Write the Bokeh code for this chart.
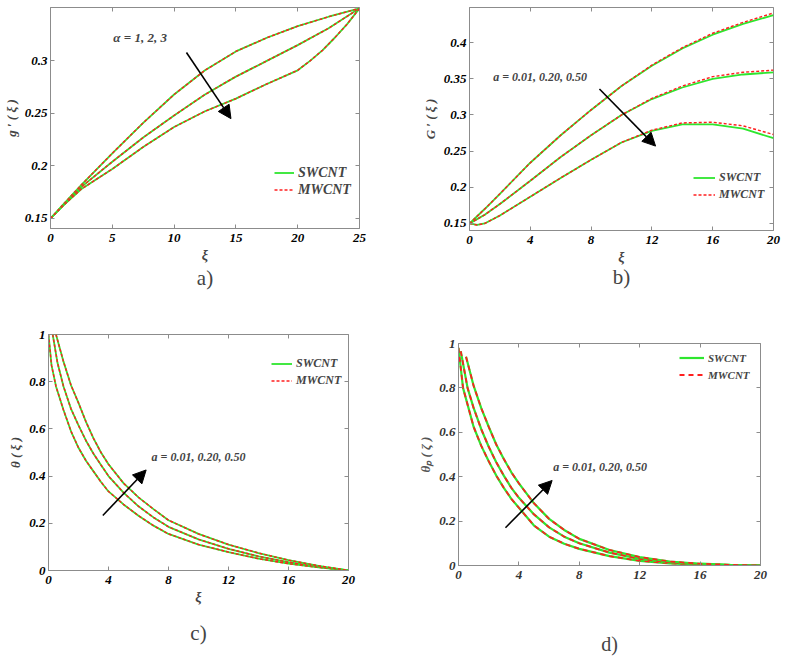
from bokeh.plotting import figure
from bokeh.models import (Range1d, FixedTicker, LinearAxis, Arrow, NormalHead, Label,
                          Legend, LegendItem)
from bokeh.layouts import column, row
from bokeh.embed import file_html
from bokeh.resources import INLINE

FONT = "Liberation Serif"
GREEN = "#2ee62e"
RED = "#ff1f1f"
AX = "#8c8c8c"

# ---------------- data ----------------
# a) g'(xi), alpha = 1, 2, 3
xa = [0, 1, 2.5, 5, 7.5, 10, 12.5, 15, 17.5, 20, 22.5, 25]
a1 = [0.150, 0.163, 0.182, 0.212, 0.241, 0.268, 0.291, 0.309, 0.322, 0.333, 0.342, 0.350]
a2 = [0.150, 0.162, 0.180, 0.204, 0.227, 0.248, 0.268, 0.285, 0.300, 0.315, 0.331, 0.350]
xa3 = [0, 1, 2.5, 5, 7.5, 10, 12.5, 15, 17.5, 20, 21, 22, 23, 24, 25]
a3 = [0.150, 0.162, 0.178, 0.197, 0.218, 0.237, 0.252, 0.264, 0.278, 0.291, 0.300, 0.310,
      0.322, 0.335, 0.350]

# b) G'(xi), a = 0.01, 0.20, 0.50
xb = [0, 0.5, 1, 2, 4, 6, 8, 10, 12, 14, 16, 18, 20]
b1_sw = [0.150, 0.160, 0.170, 0.191, 0.234, 0.272, 0.307, 0.340, 0.368, 0.392, 0.411, 0.426, 0.438]
b1_mw = [0.150, 0.160, 0.170, 0.191, 0.234, 0.272, 0.307, 0.340, 0.369, 0.393, 0.413, 0.428, 0.441]
b2_sw = [0.150, 0.156, 0.162, 0.177, 0.209, 0.242, 0.272, 0.300, 0.322, 0.338, 0.350, 0.356, 0.359]
b2_mw = [0.150, 0.156, 0.162, 0.177, 0.209, 0.242, 0.272, 0.300, 0.323, 0.340, 0.353, 0.359, 0.362]
b3_sw = [0.150, 0.148, 0.150, 0.161, 0.187, 0.213, 0.238, 0.262, 0.278, 0.287, 0.287, 0.281, 0.268]
b3_mw = [0.150, 0.148, 0.150, 0.161, 0.187, 0.213, 0.238, 0.262, 0.279, 0.289, 0.290, 0.285, 0.273]

# c) theta(xi)
xc1 = [0, 0.2, 0.5, 1, 1.5, 2, 2.5, 3, 3.5, 4, 5, 6, 7, 8, 10, 12, 14, 16, 18, 20]
c1 = [1.0, 0.87, 0.78, 0.68, 0.59, 0.52, 0.465, 0.42, 0.375, 0.335, 0.28, 0.232, 0.19, 0.155,
      0.11, 0.078, 0.05, 0.029, 0.013, 0.0]
xc2 = [0.28, 0.6, 1, 1.5, 2, 2.5, 3, 3.5, 4, 5, 6, 7, 8, 10, 12, 14, 16, 18, 20]
c2 = [1.0, 0.88, 0.78, 0.685, 0.615, 0.55, 0.495, 0.447, 0.40, 0.33, 0.272, 0.225, 0.185,
      0.132, 0.092, 0.06, 0.035, 0.015, 0.0]
xc3 = [0.5, 1, 1.5, 2, 2.5, 3, 3.5, 4, 5, 6, 7, 8, 10, 12, 14, 16, 18, 20]
c3 = [1.0, 0.885, 0.785, 0.71, 0.63, 0.56, 0.50, 0.45, 0.37, 0.31, 0.26, 0.213, 0.155, 0.11,
      0.074, 0.044, 0.02, 0.0]

# d) theta_p(xi)
xd1 = [0, 0.3, 1, 1.5, 2, 2.5, 3, 3.5, 4, 5, 6, 7, 8, 10, 12, 14, 16, 18, 20]
d1 = [0.98, 0.80, 0.625, 0.54, 0.47, 0.405, 0.35, 0.30, 0.26, 0.18, 0.13, 0.098, 0.075, 0.042,
      0.021, 0.01, 0.004, 0.001, 0.0]
xd2 = [0.15, 0.6, 1, 1.5, 2, 2.5, 3, 3.5, 4, 5, 6, 7, 8, 10, 12, 14, 16, 18, 20]
d2 = [0.965, 0.80, 0.71, 0.615, 0.535, 0.465, 0.405, 0.35, 0.305, 0.23, 0.172, 0.13, 0.10,
      0.058, 0.03, 0.014, 0.006, 0.002, 0.0]
xd3 = [0.5, 1, 1.5, 2, 2.5, 3, 3.5, 4, 5, 6, 7, 8, 10, 12, 14, 16, 18, 20]
d3 = [0.94, 0.81, 0.71, 0.625, 0.545, 0.48, 0.42, 0.37, 0.28, 0.21, 0.16, 0.12, 0.07, 0.038,
      0.018, 0.008, 0.003, 0.0]

ticks_a_x = [0, 5, 10, 15, 20, 25]
ticks_a_y = [0.15, 0.2, 0.25, 0.3]
ticks_b_x = [0, 4, 8, 12, 16, 20]
ticks_b_y = [0.15, 0.2, 0.25, 0.3, 0.35, 0.4]
ticks_cd_x = [0, 4, 8, 12, 16, 20]
ticks_cd_y = [0, 0.2, 0.4, 0.6, 0.8, 1]


def fmt(t):
    return "%g" % t


def base(w, h, l, r, t, b, xr, yr, xt, yt, xlab, ylab, caption, cap_standoff,
         tick_size="13px", tick_color="black", cap_size="21px"):
    p = figure(width=w, height=h, min_border_left=l, min_border_right=r,
               min_border_top=t, min_border_bottom=b,
               x_range=Range1d(*xr), y_range=Range1d(*yr),
               output_backend="svg", toolbar_location=None)
    p.grid.visible = False
    p.outline_line_color = AX
    for ax, tk in ((p.xaxis[0], xt), (p.yaxis[0], yt)):
        ax.ticker = FixedTicker(ticks=tk)
        ax.major_label_overrides = {v: fmt(v) for v in tk}
        ax.major_tick_in = 4
        ax.major_tick_out = 0
        ax.minor_tick_in = 0
        ax.minor_tick_out = 0
        ax.axis_line_color = AX
        ax.major_tick_line_color = AX
        ax.major_label_text_font = FONT
        ax.major_label_text_font_style = "bold italic"
        ax.major_label_text_font_size = tick_size
        ax.major_label_text_color = tick_color
        ax.axis_label_text_font = FONT
        ax.axis_label_text_font_style = "bold italic"
        ax.axis_label_text_font_size = "14px"
        ax.axis_label_standoff = 3
    p.xaxis[0].major_label_standoff = 5
    p.yaxis[0].major_label_standoff = 3
    p.xaxis[0].axis_label = xlab
    p.yaxis[0].axis_label = ylab
    p.yaxis[0].axis_label_text_font_size = "13px"
    for loc, tk in (("right", yt), ("above", xt)):
        ax = LinearAxis(ticker=FixedTicker(ticks=tk),
                        major_label_overrides={v: "" for v in tk},
                        major_label_text_font_size="0px", major_label_standoff=0,
                        major_tick_in=4, major_tick_out=0, minor_tick_in=0, minor_tick_out=0,
                        axis_line_color=None, major_tick_line_color=AX)
        p.add_layout(ax, loc)
    # caption placed as the label of an empty axis below the x axis
    cap = LinearAxis(ticker=FixedTicker(ticks=[]), major_label_text_font_size="0px",
                     major_label_standoff=0, major_tick_in=0, major_tick_out=0,
                     minor_tick_in=0, minor_tick_out=0, axis_line_color=None,
                     axis_label=caption, axis_label_text_font=FONT,
                     axis_label_text_font_style="normal", axis_label_text_font_size=cap_size,
                     axis_label_standoff=cap_standoff)
    p.add_layout(cap, "below")
    return p


def pair(p, x, ysw, ymw, width=1.8, dash="3 2"):
    g = p.line(x, ysw, line_color=GREEN, line_width=width)
    r = p.line(x, ymw, line_color=RED, line_width=width * 0.8, line_dash=dash)
    return g, r


def legend(p, g, r, loc, gw, fs):
    lg = Legend(items=[LegendItem(label="SWCNT", renderers=[g]),
                       LegendItem(label="MWCNT", renderers=[r])],
                location=loc, border_line_color=None, background_fill_alpha=0,
                padding=0, margin=0, spacing=0, glyph_width=gw, glyph_height=17,
                label_height=17, label_standoff=4, label_text_font=FONT,
                label_text_font_style="bold italic", label_text_font_size=fs)
    p.add_layout(lg)


def arrow(p, x0, y0, x1, y1):
    p.add_layout(Arrow(end=NormalHead(size=13, fill_color="black", line_color="black"),
                       x_start=x0, y_start=y0, x_end=x1, y_end=y1,
                       line_width=1.6, line_color="black"))


def note(p, x, y, txt, fs):
    p.add_layout(Label(x=x, y=y, text=txt, text_font=FONT, text_font_style="bold italic",
                       text_font_size=fs, text_baseline="middle", text_align="left"))


# ---- a ----
pa = base(400, 326, 49, 41, 7, 98, (0, 25), (0.1404, 0.3508), ticks_a_x, ticks_a_y,
          "ξ", "g ′ ( ξ )", "a)", 0)
ga, ra = pair(pa, xa, a1, a1)
pair(pa, xa, a2, a2)
pair(pa, xa3, a3, a3)
arrow(pa, 11.0, 0.308, 14.6, 0.245)
note(pa, 5.08, 0.322, "α = 1, 2, 3", "13px")
legend(pa, ga, ra, (224, 30), 20, "14px")

# ---- b ----
pb = base(392, 326, 69, 19, 7, 96, (0, 20), (0.1403, 0.4486), ticks_b_x, ticks_b_y,
          "ξ", "G ′ ( ξ )", "b)", -3)
gb, rb = pair(pb, xb, b1_sw, b1_mw)
pair(pb, xb, b2_sw, b2_mw)
pair(pb, xb, b3_sw, b3_mw)
arrow(pb, 8.55, 0.336, 12.24, 0.257)
note(pb, 1.56, 0.352, "a = 0.01, 0.20, 0.50", "12px")
legend(pb, gb, rb, (224, 27), 22, "12px")

# ---- c ----
pc = base(400, 331, 48, 52, 8, 87, (0, 20), (0, 1), ticks_cd_x, ticks_cd_y,
          "ξ", "θ ( ξ )", "c)", 13)
gc, rc = pair(pc, xc1, c1, c1)
pair(pc, xc2, c2, c2)
pair(pc, xc3, c3, c3)
arrow(pc, 3.62, 0.233, 6.51, 0.426)
note(pc, 6.87, 0.48, "a = 0.01, 0.20, 0.50", "12px")
legend(pc, gc, rc, (223, 181), 21, "12px")

# ---- d ----
pd_ = base(392, 331, 58, 32, 17, 92, (0, 20), (0, 1), ticks_cd_x, ticks_cd_y,
           "", "θₚ ( ζ )", "d)", 51, tick_size="13px", tick_color="#333333", cap_size="20px")
gd, rd = pair(pd_, xd1, d1, d1, width=2.2, dash="5 4")
pair(pd_, xd2, d2, d2, width=2.2, dash="5 4")
pair(pd_, xd3, d3, d3, width=2.2, dash="5 4")
arrow(pd_, 3.11, 0.17, 6.2, 0.383)
note(pd_, 6.27, 0.443, "a = 0.01, 0.20, 0.50", "12px")
legend(pd_, gd, rd, (221, 182), 25, "11px")
pd_.yaxis[0].axis_label_text_color = "#555555"

layout = column(row(column(pa), column(pb)), row(column(pc), column(pd_)))
open("out.html", "w").write(file_html(layout, INLINE))
